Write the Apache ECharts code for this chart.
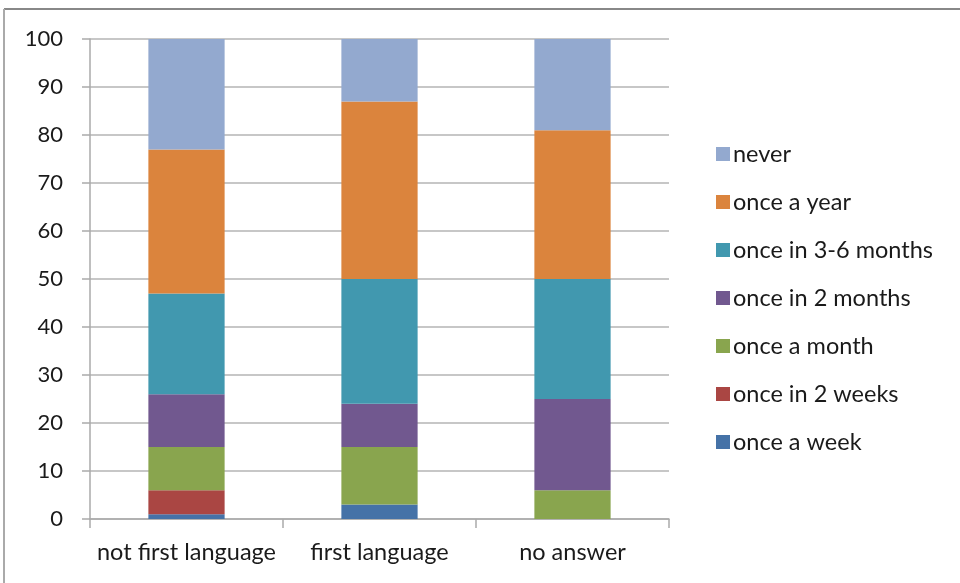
<!DOCTYPE html>
<html>
<head>
<meta charset="utf-8">
<script src="https://cdn.jsdelivr.net/npm/echarts@6/dist/echarts.min.js"></script>
<style>
html,body{margin:0;padding:0;background:#fff;}
#chart{width:960px;height:583px;}
</style>
</head>
<body>
<div id="chart"></div>
<script>
const categories = ['not first language', 'first language', 'no answer'];
const yTicks = [0, 10, 20, 30, 40, 50, 60, 70, 80, 90, 100];
const onceAWeek = [1, 3, 0];
const onceIn2Weeks = [5, 0, 0];
const onceAMonth = [9, 12, 6];
const onceIn2Months = [11, 9, 19];
const onceIn3to6Months = [21, 26, 25];
const onceAYear = [30, 37, 31];
const never = [23, 13, 19];

const seriesDefs = [
  ['once a week', onceAWeek, '#4572A7'],
  ['once in 2 weeks', onceIn2Weeks, '#AA4643'],
  ['once a month', onceAMonth, '#89A54E'],
  ['once in 2 months', onceIn2Months, '#71588F'],
  ['once in 3-6 months', onceIn3to6Months, '#4198AF'],
  ['once a year', onceAYear, '#DB843D'],
  ['never', never, '#93A9CF']
];

const font = 'Lato, "Open Sans", sans-serif';
const chart = echarts.init(document.getElementById('chart'));
chart.setOption({
  animation: false,
  backgroundColor: '#fff',
  grid: {left: 90, right: 291, top: 39, bottom: 64, containLabel: false},
  legend: {
    orient: 'vertical',
    left: 711,
    top: 137,
    itemWidth: 14,
    itemHeight: 14,
    itemGap: 24,
    icon: 'rect',
    data: seriesDefs.map(s => s[0]).reverse(),
    textStyle: {fontFamily: font, fontSize: 23.5, lineHeight: 20, color: '#1a1a1a', padding: [0, 0, 0, -2]}
  },
  xAxis: {
    type: 'category',
    data: categories,
    axisLine: {lineStyle: {color: '#aaa', width: 1.5}},
    axisTick: {show: true, length: 9, inside: false, alignWithLabel: false, lineStyle: {color: '#aaa', width: 1.5}},
    axisLabel: {fontFamily: font, fontSize: 23.5, color: '#1a1a1a', margin: 21, interval: 0, hideOverlap: false}
  },
  yAxis: {
    type: 'value',
    min: 0, max: 100, interval: 10,
    axisLine: {show: true, lineStyle: {color: '#aaa', width: 1.5}},
    axisTick: {show: true, length: 8, lineStyle: {color: '#aaa', width: 1.5}},
    splitLine: {lineStyle: {color: '#b4b4b4', width: 1.5}},
    axisLabel: {fontFamily: font, fontSize: 22, color: '#1a1a1a', margin: 27,
      formatter: v => yTicks.includes(v) ? String(v) : ''}
  },
  series: seriesDefs.map(([name, data, color]) => ({
    name, type: 'bar', stack: 'total', data,
    barWidth: '39.5%',
    itemStyle: {color},
    emphasis: {disabled: true}
  })),
  graphic: [
    {type: 'line', shape: {x1: 4, y1: 9, x2: 960, y2: 9}, style: {stroke: '#888', lineWidth: 2}},
    {type: 'line', shape: {x1: 4, y1: 9, x2: 4, y2: 583}, style: {stroke: '#aaa', lineWidth: 2}}
  ]
});
</script>
</body>
</html>
